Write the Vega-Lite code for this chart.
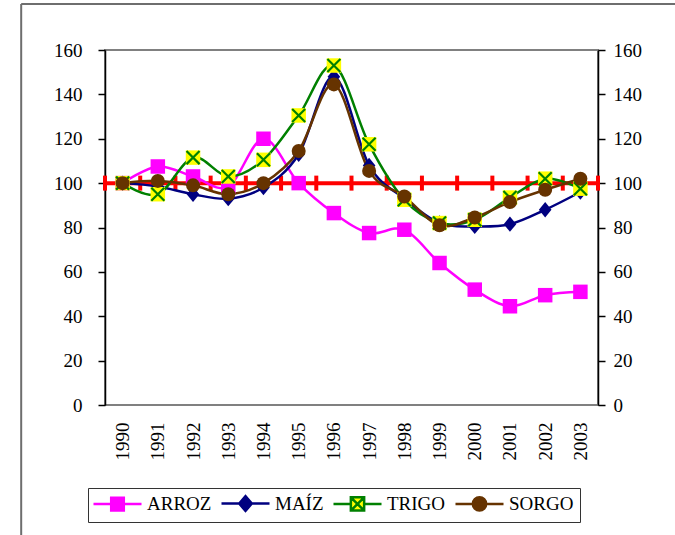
{
  "$schema": "https://vega.github.io/schema/vega-lite/v6.json",
  "width": 493,
  "height": 355,
  "autosize": {"type": "none"},
  "padding": {"left": 105, "top": 50, "right": 77, "bottom": 130},
  "background": "white",
  "datasets": {
    "crops": [
      {"year": 1990, "crop": "ARROZ", "value": 100},
      {"year": 1991, "crop": "ARROZ", "value": 107.5},
      {"year": 1992, "crop": "ARROZ", "value": 103},
      {"year": 1993, "crop": "ARROZ", "value": 98.5},
      {"year": 1994, "crop": "ARROZ", "value": 120},
      {"year": 1995, "crop": "ARROZ", "value": 100},
      {"year": 1996, "crop": "ARROZ", "value": 86.5},
      {"year": 1997, "crop": "ARROZ", "value": 77.5},
      {"year": 1998, "crop": "ARROZ", "value": 79},
      {"year": 1999, "crop": "ARROZ", "value": 64},
      {"year": 2000, "crop": "ARROZ", "value": 52},
      {"year": 2001, "crop": "ARROZ", "value": 44.5},
      {"year": 2002, "crop": "ARROZ", "value": 49.5},
      {"year": 2003, "crop": "ARROZ", "value": 51},
      {"year": 1990, "crop": "MAÍZ", "value": 100},
      {"year": 1991, "crop": "MAÍZ", "value": 98.5},
      {"year": 1992, "crop": "MAÍZ", "value": 95},
      {"year": 1993, "crop": "MAÍZ", "value": 93},
      {"year": 1994, "crop": "MAÍZ", "value": 98},
      {"year": 1995, "crop": "MAÍZ", "value": 113},
      {"year": 1996, "crop": "MAÍZ", "value": 148},
      {"year": 1997, "crop": "MAÍZ", "value": 108},
      {"year": 1998, "crop": "MAÍZ", "value": 93},
      {"year": 1999, "crop": "MAÍZ", "value": 82},
      {"year": 2000, "crop": "MAÍZ", "value": 80.5},
      {"year": 2001, "crop": "MAÍZ", "value": 81.5},
      {"year": 2002, "crop": "MAÍZ", "value": 88},
      {"year": 2003, "crop": "MAÍZ", "value": 96},
      {"year": 1990, "crop": "TRIGO", "value": 100},
      {"year": 1991, "crop": "TRIGO", "value": 95},
      {"year": 1992, "crop": "TRIGO", "value": 111.5},
      {"year": 1993, "crop": "TRIGO", "value": 103},
      {"year": 1994, "crop": "TRIGO", "value": 110.5},
      {"year": 1995, "crop": "TRIGO", "value": 130.5},
      {"year": 1996, "crop": "TRIGO", "value": 153},
      {"year": 1997, "crop": "TRIGO", "value": 117.5},
      {"year": 1998, "crop": "TRIGO", "value": 92.5},
      {"year": 1999, "crop": "TRIGO", "value": 82},
      {"year": 2000, "crop": "TRIGO", "value": 83.5},
      {"year": 2001, "crop": "TRIGO", "value": 93.5},
      {"year": 2002, "crop": "TRIGO", "value": 102},
      {"year": 2003, "crop": "TRIGO", "value": 97.5},
      {"year": 1990, "crop": "SORGO", "value": 100},
      {"year": 1991, "crop": "SORGO", "value": 101},
      {"year": 1992, "crop": "SORGO", "value": 99},
      {"year": 1993, "crop": "SORGO", "value": 95},
      {"year": 1994, "crop": "SORGO", "value": 100},
      {"year": 1995, "crop": "SORGO", "value": 114.5},
      {"year": 1996, "crop": "SORGO", "value": 144.5},
      {"year": 1997, "crop": "SORGO", "value": 105.5},
      {"year": 1998, "crop": "SORGO", "value": 94},
      {"year": 1999, "crop": "SORGO", "value": 81},
      {"year": 2000, "crop": "SORGO", "value": 84.5},
      {"year": 2001, "crop": "SORGO", "value": 91.5},
      {"year": 2002, "crop": "SORGO", "value": 97},
      {"year": 2003, "crop": "SORGO", "value": 102}
    ],
    "ref": [
      {"pos": 1989.5, "value": 100},
      {"pos": 1990.5, "value": 100},
      {"pos": 1991.5, "value": 100},
      {"pos": 1992.5, "value": 100},
      {"pos": 1993.5, "value": 100},
      {"pos": 1994.5, "value": 100},
      {"pos": 1995.5, "value": 100},
      {"pos": 1996.5, "value": 100},
      {"pos": 1997.5, "value": 100},
      {"pos": 1998.5, "value": 100},
      {"pos": 1999.5, "value": 100},
      {"pos": 2000.5, "value": 100},
      {"pos": 2001.5, "value": 100},
      {"pos": 2002.5, "value": 100},
      {"pos": 2003.5, "value": 100}
    ]
  },
  "resolve": {"scale": {"x": "shared", "y": "shared"}, "axis": {"y": "independent"}},
  "layer": [
    {
      "data": {"values": [{"frame": "left"}]},
      "mark": {"type": "rule", "color": "#6e6e6e", "strokeWidth": 2},
      "encoding": {
        "x": {"datum": 1987.12, "type": "quantitative", "scale": {"domain": [1989.5, 2003.5], "nice": false, "zero": false}},
        "y": {"datum": 180.7, "type": "quantitative", "scale": {"domain": [0, 160], "nice": false}, "axis": null},
        "y2": {"datum": -62}
      }
    },
    {
      "data": {"values": [{"frame": "top"}]},
      "mark": {"type": "rule", "color": "#6e6e6e", "strokeWidth": 2},
      "encoding": {
        "x": {"datum": 1987.12, "type": "quantitative"},
        "x2": {"datum": 2007},
        "y": {"datum": 180.7, "type": "quantitative", "axis": null}
      }
    },
    {
      "data": {"name": "ref"},
      "mark": {"type": "line", "color": "#ff0000", "strokeWidth": 4},
      "encoding": {
        "x": {"field": "pos", "type": "quantitative"},
        "y": {"field": "value", "type": "quantitative",
          "axis": {"orient": "left", "title": null, "values": [0,20,40,60,80,100,120,140,160], "grid": false, "domain": true, "domainColor": "#000", "domainWidth": 1.5, "tickColor": "#000", "tickWidth": 1.5, "tickSize": 7, "labelPadding": 16, "labelFont": "Liberation Serif", "labelFontSize": 19, "labelColor": "#000",
            "encode": {"ticks": {"update": {"x": {"value": 7}, "x2": {"value": -7}}}}}}
      }
    },
    {
      "data": {"name": "ref"},
      "mark": {"type": "tick", "color": "#ff0000", "thickness": 4, "size": 15, "orient": "vertical", "opacity": 1},
      "encoding": {
        "x": {"field": "pos", "type": "quantitative"},
        "y": {"field": "value", "type": "quantitative",
          "axis": {"orient": "right", "title": null, "values": [0,20,40,60,80,100,120,140,160], "grid": false, "domain": true, "domainColor": "#000", "domainWidth": 1.5, "tickColor": "#000", "tickWidth": 1.5, "tickSize": 7, "labelPadding": 8, "labelFont": "Liberation Serif", "labelFontSize": 19, "labelColor": "#000",
            "encode": {"ticks": {"update": {"x": {"value": -7}, "x2": {"value": 7}}}}}}
      }
    },
    {
      "data": {"name": "crops"},
      "mark": {"type": "line", "interpolate": "cardinal", "strokeWidth": 2.5},
      "encoding": {
        "x": {"field": "year", "type": "quantitative"},
        "y": {"field": "value", "type": "quantitative", "axis": null},
        "color": {"field": "crop", "type": "nominal",
          "scale": {"domain": ["ARROZ", "MAÍZ", "TRIGO", "SORGO"], "range": ["#ff00ff", "#000080", "#008000", "#663300"]},
          "legend": {
            "orient": "none", "legendX": -17, "legendY": 438, "direction": "horizontal", "columns": 4,
            "title": null, "strokeColor": "#333", "padding": 6, "cornerRadius": 0,
            "labelFont": "Liberation Serif", "labelFontSize": 19, "labelColor": "#000", "labelLimit": 0,
            "symbolSize": 196, "symbolStrokeWidth": 2.5, "symbolOffset": 14, "labelOffset": 20, "columnPadding": 4,
            "encode": {"symbols": {"update": {
              "shape": {"signal": "datum.value === 'ARROZ' ? 'M-3.43,0H3.43M-0.9,-0.9H0.9V0.9H-0.9Z' : datum.value === 'MAÍZ' ? 'M-3.43,0H3.43M-0.9,0L0,-1.05L0.9,0L0,1.05Z' : datum.value === 'TRIGO' ? 'M-3.43,0H-0.95M0.95,0H3.43M-0.95,-0.95H0.95V0.95H-0.95ZM-0.95,-0.95L0.95,0.95M-0.95,0.95L0.95,-0.95' : 'M-3.43,0H3.43M0.95,0A0.95,0.95,0,1,1,-0.95,0A0.95,0.95,0,1,1,0.95,0Z'"},
              "fill": {"signal": "datum.value === 'TRIGO' ? '#ffff00' : scale('color', datum.value)"},
              "stroke": {"signal": "scale('color', datum.value)"},
              "opacity": {"value": 1}
            }}}
          }
        }
      }
    },
    {
      "data": {"name": "crops"},
      "transform": [{"filter": "datum.crop === 'ARROZ'"}],
      "mark": {"type": "point", "shape": "square", "filled": true, "size": 210, "color": "#ff00ff", "opacity": 1},
      "encoding": {
        "x": {"field": "year", "type": "quantitative"},
        "y": {"field": "value", "type": "quantitative", "axis": null}
      }
    },
    {
      "data": {"name": "crops"},
      "transform": [{"filter": "datum.crop === 'MAÍZ'"}],
      "mark": {"type": "point", "shape": "M-0.9,0L0,-1.1L0.9,0L0,1.1Z", "filled": true, "size": 196, "color": "#000080", "opacity": 1},
      "encoding": {
        "x": {"field": "year", "type": "quantitative"},
        "y": {"field": "value", "type": "quantitative", "axis": null}
      }
    },
    {
      "data": {"name": "crops"},
      "transform": [{"filter": "datum.crop === 'TRIGO'"}],
      "mark": {"type": "point", "shape": "square", "filled": true, "size": 210, "color": "#ffff00", "opacity": 1},
      "encoding": {
        "x": {"field": "year", "type": "quantitative"},
        "y": {"field": "value", "type": "quantitative", "axis": null}
      }
    },
    {
      "data": {"name": "crops"},
      "transform": [{"filter": "datum.crop === 'TRIGO'"}],
      "mark": {"type": "point", "shape": "M-1,-1L1,1M-1,1L1,-1", "filled": false, "size": 170, "color": "#008000", "strokeWidth": 2.2, "opacity": 1},
      "encoding": {
        "x": {"field": "year", "type": "quantitative"},
        "y": {"field": "value", "type": "quantitative", "axis": null}
      }
    },
    {
      "data": {"name": "crops"},
      "transform": [{"filter": "datum.crop === 'SORGO'"}],
      "mark": {"type": "point", "shape": "circle", "filled": true, "size": 196, "color": "#663300", "opacity": 1},
      "encoding": {
        "x": {"field": "year", "type": "quantitative"},
        "y": {"field": "value", "type": "quantitative", "axis": null}
      }
    }
  ],
  "config": {
    "view": {"stroke": "#808080", "strokeWidth": 2},
    "axis": {"grid": false},
    "axisX": {"orient": "bottom", "title": null, "values": [1990,1991,1992,1993,1994,1995,1996,1997,1998,1999,2000,2001,2002,2003], "format": "d", "labelAngle": 270, "labelOverlap": false, "ticks": false, "tickSize": 0, "domain": false, "labelPadding": 17, "labelFont": "Liberation Serif", "labelFontSize": 19, "labelColor": "#000"}
  }
}
